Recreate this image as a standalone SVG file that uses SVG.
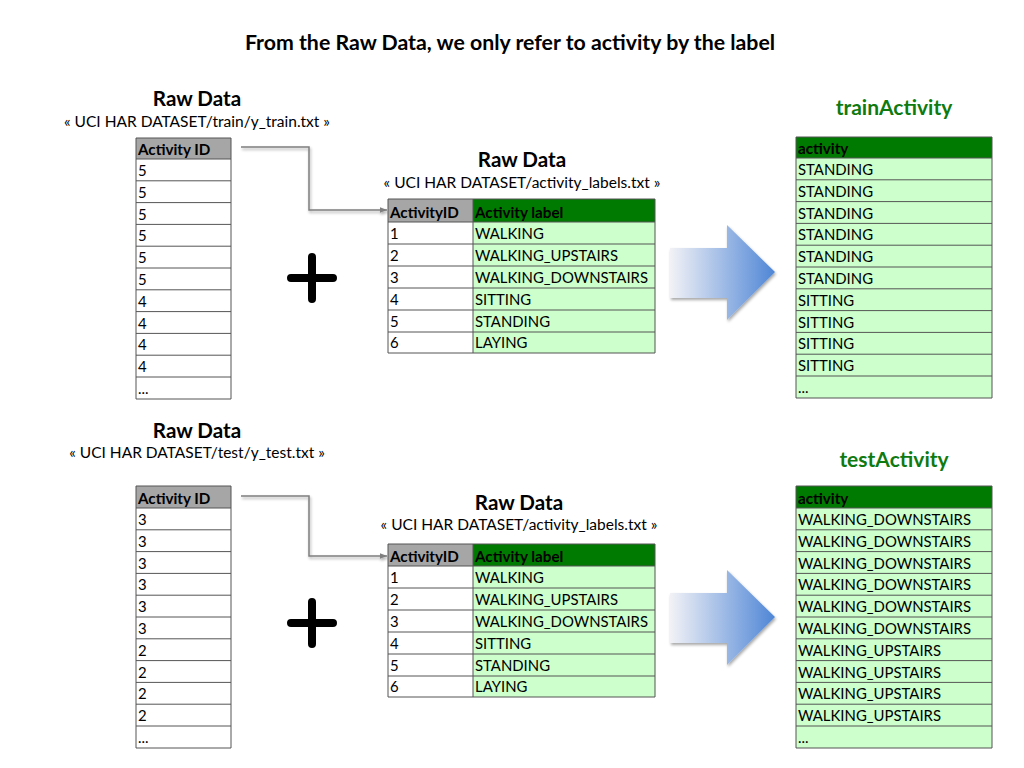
<svg xmlns="http://www.w3.org/2000/svg" width="1024" height="768" viewBox="0 0 1024 768">
<style>
text{font-family:Lato,"Open Sans","Liberation Sans",sans-serif;fill:#000}
.t{font-size:21.3px;font-weight:bold}
.h{font-size:20.6px;font-weight:bold}
.s{font-size:15.5px}
.g{font-size:21px;font-weight:bold;fill:#0f7a0f}
.c{font-size:14.9px}
.b{font-size:15.2px;font-weight:bold}
.gray{fill:#a6a6a6}
.dg{fill:#007a00}
.lg{fill:#ccffcc}
.wh{fill:#fff}
.ln{stroke:#555;stroke-width:1;fill:none}
.con{stroke:#7f7f7f;stroke-width:1.5;fill:none}
</style>
<defs>
<marker id="ah" viewBox="0 0 10 10" refX="10" refY="5" markerWidth="7" markerHeight="7" orient="auto" markerUnits="userSpaceOnUse">
<path d="M0,1 L10,5 L0,9 z" fill="#7f7f7f"/>
</marker>
<linearGradient id="ag" x1="0" y1="0" x2="1" y2="0">
<stop offset="0" stop-color="#f2f2f6"/>
<stop offset="1" stop-color="#4f86d6"/>
</linearGradient>
<filter id="sh" x="-20%" y="-20%" width="140%" height="140%">
<feGaussianBlur in="SourceAlpha" stdDeviation="1.5"/>
<feOffset dx="1" dy="2"/>
<feComponentTransfer><feFuncA type="linear" slope="0.35"/></feComponentTransfer>
<feMerge><feMergeNode/><feMergeNode in="SourceGraphic"/></feMerge>
</filter>
</defs>
<rect width="1024" height="768" fill="#fff"/>
<text class="t" x="510" y="50" text-anchor="middle">From the Raw Data, we only refer to activity by the label</text>

<!-- connectors -->
<g id="connectors" filter="url(#sh)">
<path class="con" d="M241,147 H309 V210 H387" marker-end="url(#ah)"/>
<path class="con" d="M241,496 H309 V556 H387" marker-end="url(#ah)"/>
</g>

<!-- top left table -->
<g id="train-raw">
<text class="h" x="197" y="106" text-anchor="middle">Raw Data</text>
<text class="s" x="197" y="127" text-anchor="middle">« UCI HAR DATASET/train/y_train.txt »</text>
<rect class="gray" x="136" y="138" width="95" height="21"/>
<rect class="wh" x="136" y="159" width="95" height="240"/>
<path class="ln" d="M136,138 H231 V399 H136 Z M136,159 H231 M136,180.8 H231 M136,202.6 H231 M136,224.4 H231 M136,246.2 H231 M136,268 H231 M136,289.8 H231 M136,311.6 H231 M136,333.4 H231 M136,355.2 H231 M136,377 H231"/>
<text class="b" x="138" y="155">Activity ID</text>
<text class="c" x="138" y="176">5</text>
<text class="c" x="138" y="197.8">5</text>
<text class="c" x="138" y="219.6">5</text>
<text class="c" x="138" y="241.4">5</text>
<text class="c" x="138" y="263.2">5</text>
<text class="c" x="138" y="285">5</text>
<text class="c" x="138" y="306.8">4</text>
<text class="c" x="138" y="328.6">4</text>
<text class="c" x="138" y="350.4">4</text>
<text class="c" x="138" y="372.2">4</text>
<text class="c" x="138" y="394">...</text>
</g>

<!-- top middle table -->
<g id="train-labels">
<text class="h" x="522" y="167" text-anchor="middle">Raw Data</text>
<text class="s" x="522" y="188" text-anchor="middle">« UCI HAR DATASET/activity_labels.txt »</text>
<rect class="gray" x="388" y="199" width="85" height="23"/>
<rect class="dg" x="473" y="199" width="182" height="23"/>
<rect class="wh" x="388" y="222" width="85" height="131"/>
<rect class="lg" x="473" y="222" width="182" height="131"/>
<path class="ln" d="M388,199 H655 V353 H388 Z M473,199 V353 M388,222 H655 M388,244 H655 M388,266 H655 M388,288 H655 M388,310 H655 M388,332 H655"/>
<text class="b" x="390" y="218">ActivityID</text>
<text class="b" x="475" y="218">Activity label</text>
<text class="c" x="390" y="239">1</text><text class="c" x="475" y="239">WALKING</text>
<text class="c" x="390" y="261">2</text><text class="c" x="475" y="261">WALKING_UPSTAIRS</text>
<text class="c" x="390" y="283">3</text><text class="c" x="475" y="283">WALKING_DOWNSTAIRS</text>
<text class="c" x="390" y="305">4</text><text class="c" x="475" y="305">SITTING</text>
<text class="c" x="390" y="327">5</text><text class="c" x="475" y="327">STANDING</text>
<text class="c" x="390" y="348">6</text><text class="c" x="475" y="348">LAYING</text>
</g>

<g id="plus-top">
<path d="M312,257 V299 M291,278 H333" stroke="#000" stroke-width="8" stroke-linecap="round"/>
</g>

<g id="arrow-top" filter="url(#sh)">
<path d="M670,248 H727 V225 L775,272 L727,320 V298 H670 Z" fill="url(#ag)"/>
</g>

<!-- top right table -->
<g id="trainActivity">
<text class="g" x="894" y="115" text-anchor="middle">trainActivity</text>
<rect class="dg" x="796" y="137" width="196" height="21"/>
<rect class="lg" x="796" y="158" width="196" height="240"/>
<path class="ln" d="M796,137 H992 V398 H796 Z M796,158 H992 M796,179.8 H992 M796,201.6 H992 M796,223.4 H992 M796,245.2 H992 M796,267 H992 M796,288.8 H992 M796,310.6 H992 M796,332.4 H992 M796,354.2 H992 M796,376 H992"/>
<text class="b" x="798" y="154">activity</text>
<text class="c" x="798" y="175">STANDING</text>
<text class="c" x="798" y="196.8">STANDING</text>
<text class="c" x="798" y="218.6">STANDING</text>
<text class="c" x="798" y="240.4">STANDING</text>
<text class="c" x="798" y="262.2">STANDING</text>
<text class="c" x="798" y="284">STANDING</text>
<text class="c" x="798" y="305.8">SITTING</text>
<text class="c" x="798" y="327.6">SITTING</text>
<text class="c" x="798" y="349.4">SITTING</text>
<text class="c" x="798" y="371.2">SITTING</text>
<text class="c" x="798" y="393">...</text>
</g>

<!-- bottom left table -->
<g id="test-raw">
<text class="h" x="197" y="438" text-anchor="middle">Raw Data</text>
<text class="s" x="197" y="458" text-anchor="middle">« UCI HAR DATASET/test/y_test.txt »</text>
<rect class="gray" x="136" y="486" width="95" height="22"/>
<rect class="wh" x="136" y="508" width="95" height="240"/>
<path class="ln" d="M136,486 H231 V748 H136 Z M136,508 H231 M136,529.8 H231 M136,551.6 H231 M136,573.4 H231 M136,595.2 H231 M136,617 H231 M136,638.8 H231 M136,660.6 H231 M136,682.4 H231 M136,704.2 H231 M136,726 H231"/>
<text class="b" x="138" y="504">Activity ID</text>
<text class="c" x="138" y="525">3</text>
<text class="c" x="138" y="546.8">3</text>
<text class="c" x="138" y="568.6">3</text>
<text class="c" x="138" y="590.4">3</text>
<text class="c" x="138" y="612.2">3</text>
<text class="c" x="138" y="634">3</text>
<text class="c" x="138" y="655.8">2</text>
<text class="c" x="138" y="677.6">2</text>
<text class="c" x="138" y="699.4">2</text>
<text class="c" x="138" y="721.2">2</text>
<text class="c" x="138" y="743">...</text>
</g>

<!-- bottom middle table -->
<g id="test-labels">
<text class="h" x="519" y="510" text-anchor="middle">Raw Data</text>
<text class="s" x="519" y="530" text-anchor="middle">« UCI HAR DATASET/activity_labels.txt »</text>
<rect class="gray" x="388" y="544" width="85" height="22"/>
<rect class="dg" x="473" y="544" width="182" height="22"/>
<rect class="wh" x="388" y="566" width="85" height="131"/>
<rect class="lg" x="473" y="566" width="182" height="131"/>
<path class="ln" d="M388,544 H655 V697 H388 Z M473,544 V697 M388,566 H655 M388,588 H655 M388,610 H655 M388,632 H655 M388,654 H655 M388,676 H655"/>
<text class="b" x="390" y="562">ActivityID</text>
<text class="b" x="475" y="562">Activity label</text>
<text class="c" x="390" y="583">1</text><text class="c" x="475" y="583">WALKING</text>
<text class="c" x="390" y="605">2</text><text class="c" x="475" y="605">WALKING_UPSTAIRS</text>
<text class="c" x="390" y="627">3</text><text class="c" x="475" y="627">WALKING_DOWNSTAIRS</text>
<text class="c" x="390" y="649">4</text><text class="c" x="475" y="649">SITTING</text>
<text class="c" x="390" y="671">5</text><text class="c" x="475" y="671">STANDING</text>
<text class="c" x="390" y="692">6</text><text class="c" x="475" y="692">LAYING</text>
</g>

<g id="plus-bottom">
<path d="M312,602 V644 M291,623 H333" stroke="#000" stroke-width="8" stroke-linecap="round"/>
</g>

<g id="arrow-bottom" filter="url(#sh)">
<path d="M670,593 H727 V570 L775,617 L727,665 V643 H670 Z" fill="url(#ag)"/>
</g>

<!-- bottom right table -->
<g id="testActivity">
<text class="g" x="894" y="467" text-anchor="middle">testActivity</text>
<rect class="dg" x="796" y="486" width="196" height="22"/>
<rect class="lg" x="796" y="508" width="196" height="240"/>
<path class="ln" d="M796,486 H992 V748 H796 Z M796,508 H992 M796,529.8 H992 M796,551.6 H992 M796,573.4 H992 M796,595.2 H992 M796,617 H992 M796,638.8 H992 M796,660.6 H992 M796,682.4 H992 M796,704.2 H992 M796,726 H992"/>
<text class="b" x="798" y="504">activity</text>
<text class="c" x="798" y="525">WALKING_DOWNSTAIRS</text>
<text class="c" x="798" y="546.8">WALKING_DOWNSTAIRS</text>
<text class="c" x="798" y="568.6">WALKING_DOWNSTAIRS</text>
<text class="c" x="798" y="590.4">WALKING_DOWNSTAIRS</text>
<text class="c" x="798" y="612.2">WALKING_DOWNSTAIRS</text>
<text class="c" x="798" y="634">WALKING_DOWNSTAIRS</text>
<text class="c" x="798" y="655.8">WALKING_UPSTAIRS</text>
<text class="c" x="798" y="677.6">WALKING_UPSTAIRS</text>
<text class="c" x="798" y="699.4">WALKING_UPSTAIRS</text>
<text class="c" x="798" y="721.2">WALKING_UPSTAIRS</text>
<text class="c" x="798" y="743">...</text>
</g>
</svg>
